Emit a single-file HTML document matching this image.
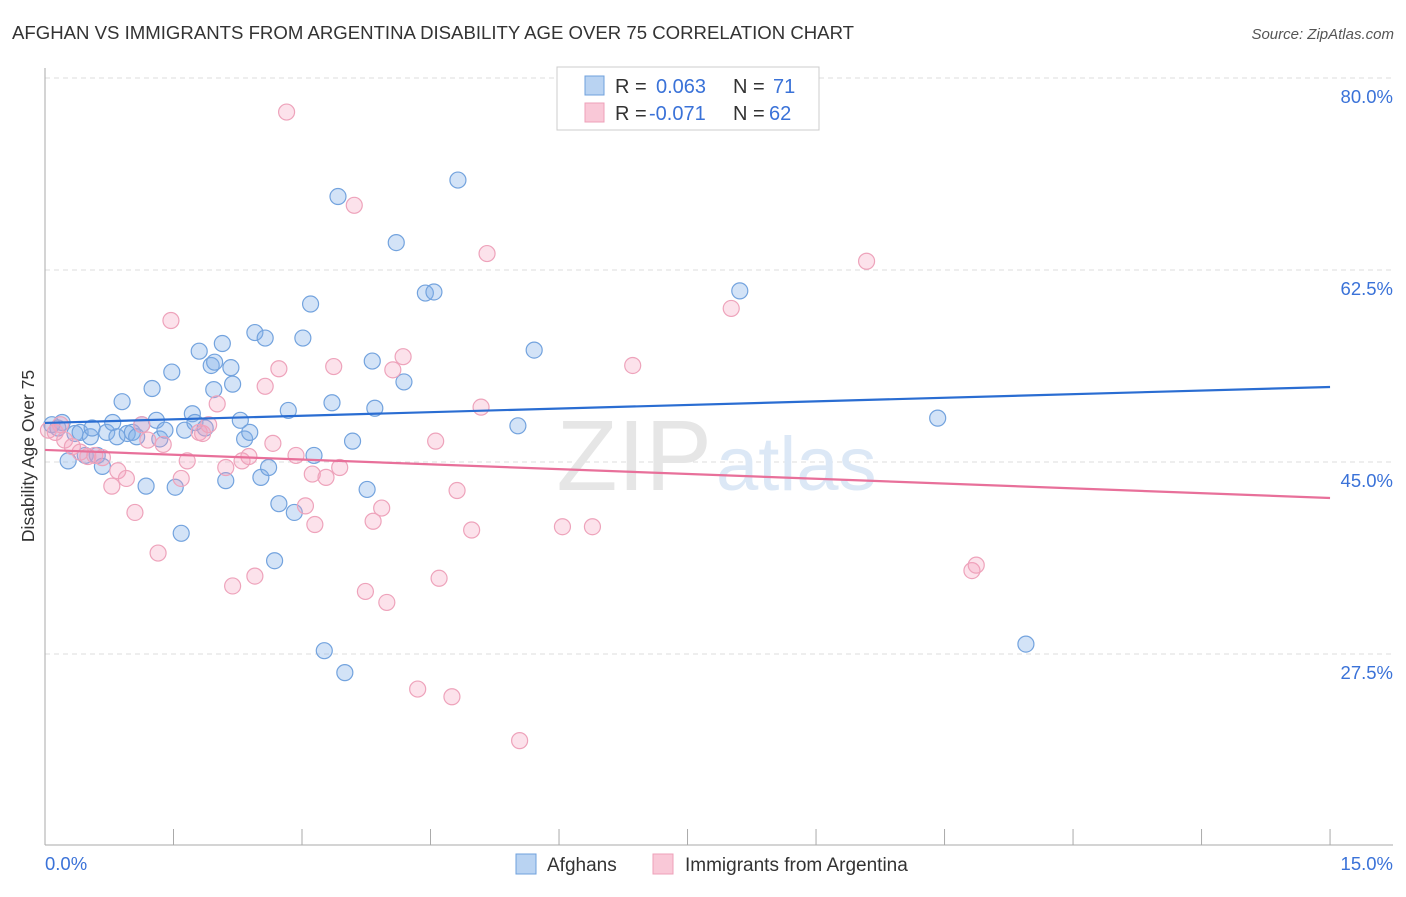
<!DOCTYPE html>
<html><head><meta charset="utf-8">
<style>
body{margin:0;background:#fff;font-family:"Liberation Sans",sans-serif;}
svg text{font-family:"Liberation Sans",sans-serif;}
</style></head>
<body>
<svg id="chart" width="1406" height="892" xmlns="http://www.w3.org/2000/svg">
<text x="12" y="39" font-size="18.6" fill="#333">AFGHAN VS IMMIGRANTS FROM ARGENTINA DISABILITY AGE OVER 75 CORRELATION CHART</text>
<text x="1394" y="39" font-size="15" fill="#555" font-style="italic" text-anchor="end">Source: ZipAtlas.com</text>
<g id="grid"></g>
<text x="712" y="490" font-size="100" fill="#e6e6e6" font-family="Liberation Serif" text-anchor="end">ZIP</text>
<text x="716" y="490" font-size="76" fill="#dce8f6">atlas</text>
<g id="points"></g>
<g id="trends"></g>
<text transform="translate(34,456) rotate(-90)" font-size="17.5" fill="#333" text-anchor="middle">Disability Age Over 75</text>
<g>
<rect x="557" y="67" width="262" height="63" fill="#fff" stroke="#ccc"/>
<rect x="585" y="76" width="19" height="19" fill="#b9d3f2" stroke="#6fa0dc"/>
<rect x="585" y="103" width="19" height="19" fill="#f9c8d7" stroke="#eea0b8"/>
<text x="615" y="93" font-size="20" fill="#333">R = </text><text x="656" y="93" font-size="20" fill="#3a72d8">0.063</text>
<text x="733" y="93" font-size="20" fill="#333">N = </text><text x="773" y="93" font-size="20" fill="#3a72d8">71</text>
<text x="615" y="120" font-size="20" fill="#333">R = </text><text x="649" y="120" font-size="20" fill="#3a72d8">-0.071</text>
<text x="733" y="120" font-size="20" fill="#333">N = </text><text x="769" y="120" font-size="20" fill="#3a72d8">62</text>
</g>
<g>
<rect x="516" y="854" width="20" height="20" fill="#b9d3f2" stroke="#6fa0dc"/>
<text x="547" y="871" font-size="19" fill="#333">Afghans</text>
<rect x="653" y="854" width="20" height="20" fill="#f9c8d7" stroke="#eea0b8"/>
<text x="685" y="871" font-size="19" fill="#333">Immigrants from Argentina</text>
</g>
</svg>
<script>
const yTicks=[27.5,45,62.5,80];
const xTickCount=[0,1.5,3,4.5,6,7.5,9,10.5,12,13.5,15];
const blueX=[0.08,0.15,0.20,0.27,0.35,0.41,0.47,0.53,0.55,0.61,0.67,0.72,0.79,0.84,0.90,0.96,1.02,1.07,1.13,1.18,1.25,1.30,1.34,1.40,1.48,1.52,1.59,1.63,1.72,1.75,1.80,1.87,1.94,1.97,1.98,2.07,2.11,2.17,2.19,2.28,2.33,2.39,2.45,2.52,2.57,2.61,2.68,2.73,2.84,2.91,3.01,3.10,3.14,3.26,3.35,3.42,3.50,3.59,3.76,3.82,3.85,4.10,4.19,4.44,4.54,4.82,5.52,5.71,8.11,10.42,11.45];
const blueY=[48.4,48.1,48.6,45.1,47.6,47.7,45.6,47.3,48.1,45.6,44.6,47.7,48.6,47.3,50.5,47.6,47.7,47.3,48.4,42.8,51.7,48.8,47.1,47.9,53.2,42.7,38.5,47.9,49.4,48.6,55.1,48.1,53.8,51.6,54.1,55.8,43.3,53.6,52.1,48.8,47.1,47.7,56.8,43.6,56.3,44.5,36.0,41.2,49.7,40.4,56.3,59.4,45.6,27.8,50.4,69.2,25.8,46.9,42.5,54.2,49.9,65.0,52.3,60.4,60.5,70.7,48.3,55.2,60.6,49.0,28.4];
const pinkX=[0.04,0.12,0.18,0.23,0.32,0.41,0.50,0.58,0.67,0.78,0.85,0.95,1.05,1.13,1.20,1.32,1.38,1.47,1.59,1.66,1.80,1.84,1.91,2.01,2.11,2.19,2.30,2.38,2.45,2.57,2.66,2.73,2.82,2.93,3.04,3.12,3.15,3.28,3.37,3.44,3.61,3.74,3.83,3.93,3.99,4.06,4.18,4.35,4.56,4.60,4.75,4.81,4.98,5.09,5.16,5.54,6.04,6.39,6.86,8.01,9.59,10.82,10.87];
const pinkY=[47.9,47.7,48.4,47.0,46.4,45.9,45.5,45.6,45.4,42.8,44.2,43.5,40.4,48.4,47.0,36.7,46.6,57.9,43.5,45.1,47.7,47.6,48.4,50.3,44.5,33.7,45.1,45.5,34.6,51.9,46.7,53.5,76.9,45.6,41.0,43.9,39.3,43.6,53.7,44.5,68.4,33.2,39.6,40.8,32.2,53.4,54.6,24.3,46.9,34.4,23.6,42.4,38.8,50.0,64.0,19.6,39.1,39.1,53.8,59.0,63.3,35.1,35.6];
const blueTrend=[48.56,51.84];
const pinkTrend=[46.1,41.72];
const NS="http://www.w3.org/2000/svg";
function sx(v){return 45+v*85.67;}
function sy(v){return 462-(v-45)*10.97;}
function mk(t,a,p){const e=document.createElementNS(NS,t);for(const k in a)e.setAttribute(k,a[k]);p.appendChild(e);return e;}
const grid=document.getElementById('grid');
yTicks.forEach(t=>{
  const l=mk('line',{x1:45,x2:1393,y1:sy(t),y2:sy(t),stroke:'#ddd','stroke-dasharray':'5,4'},grid);
  
  
  const tx=mk('text',{x:1393,y:sy(t)+25,'font-size':18.5,fill:'#3a72d8','text-anchor':'end'},grid);
  tx.textContent=t.toFixed(1)+'%';
  
  
});
const ax=mk('line',{x1:45,x2:1393,y1:845,y2:845,stroke:'#aaa'},grid);


const ay=mk('line',{x1:45,x2:45,y1:68,y2:845,stroke:'#aaa'},grid);


xTickCount.forEach(t=>{
  const l=mk('line',{x1:sx(t),x2:sx(t),y1:829,y2:845,stroke:'#aaa'},grid);
  
  
});
const x0=mk('text',{x:45,y:870,'font-size':18.5,fill:'#3a72d8'},grid);x0.textContent='0.0%';


const x1=mk('text',{x:1393,y:870,'font-size':18.5,fill:'#3a72d8','text-anchor':'end'},grid);x1.textContent='15.0%';


const pts=document.getElementById('points');
blueX.forEach((x,i)=>{
  const c=mk('circle',{cx:sx(x),cy:sy(blueY[i]),r:8,fill:'rgba(130,175,232,0.35)',stroke:'#73a3de','stroke-width':1.2},pts);
  
  
});
pinkX.forEach((x,i)=>{
  const c=mk('circle',{cx:sx(x),cy:sy(pinkY[i]),r:8,fill:'rgba(244,160,188,0.3)',stroke:'#eea3bb','stroke-width':1.2},pts);
  
  
});
const tr=document.getElementById('trends');
const bt=mk('line',{x1:sx(0),x2:sx(15),y1:sy(blueTrend[0]),y2:sy(blueTrend[1]),stroke:'#2a6dd2','stroke-width':2.2},tr);


const pt=mk('line',{x1:sx(0),x2:sx(15),y1:sy(pinkTrend[0]),y2:sy(pinkTrend[1]),stroke:'#e8709a','stroke-width':2.2},tr);


</script>
</body></html>
